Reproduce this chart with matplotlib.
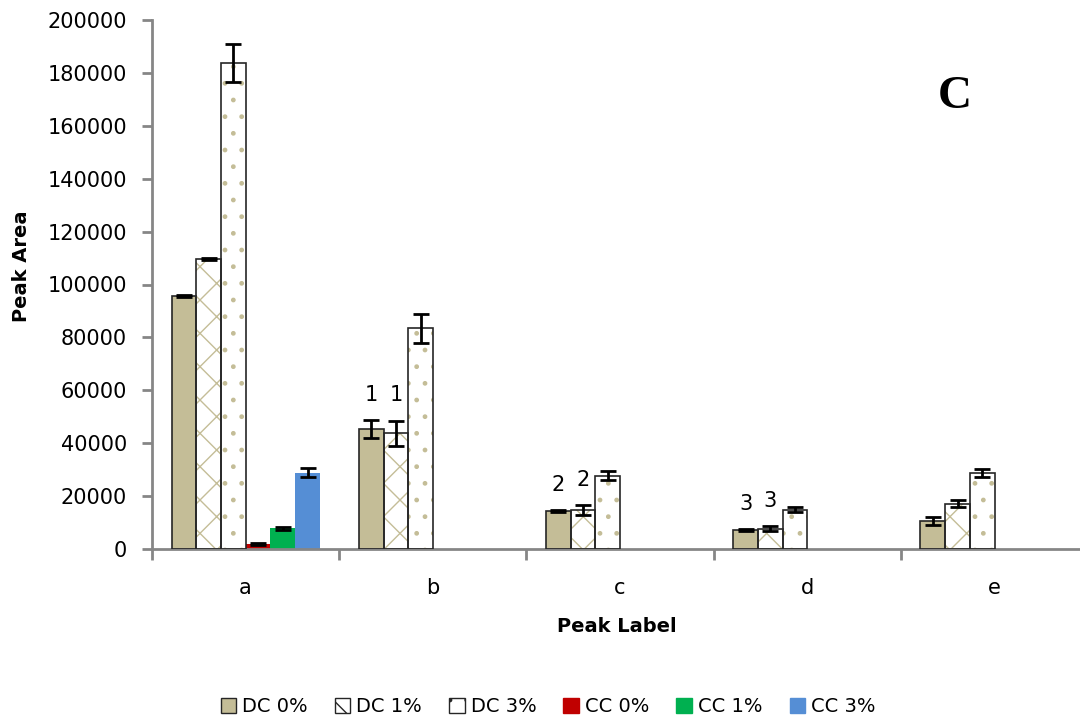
import numpy as np
import matplotlib
matplotlib.use('Agg')
from matplotlib import pyplot as plt
from matplotlib.patches import Patch

plt.rcParams['font.family'] = 'DejaVu Sans'
plt.rcParams['hatch.linewidth'] = 1.0

# peak areas, one list per treatment (nan = not measured)
peaks   = ['a', 'b', 'c', 'd', 'e']
series  = ['DC 0%', 'DC 1%', 'DC 3%', 'CC 0%', 'CC 1%', 'CC 3%']

dc0     = [95500, 45300, 14300, 7200, 10500]
dc1     = [109500, 43700, 14700, 7700, 17100]
dc3     = [183800, 83400, 27700, 14900, 28800]
cc0     = [1800, np.nan, np.nan, np.nan, np.nan]
cc1     = [7800, np.nan, np.nan, np.nan, np.nan]
cc3     = [28800, np.nan, np.nan, np.nan, np.nan]

dc0_err = [400, 3400, 500, 300, 1500]
dc1_err = [400, 4800, 2000, 1000, 1300]
dc3_err = [7300, 5400, 1800, 1000, 1600]
cc0_err = [300, np.nan, np.nan, np.nan, np.nan]
cc1_err = [500, np.nan, np.nan, np.nan, np.nan]
cc3_err = [1700, np.nan, np.nan, np.nan, np.nan]

# group labels written over the DC 0% / DC 1% bars of b, c, d
marks_dc0 = ['', '1', '2', '3', '']
marks_dc1 = ['', '1', '2', '3', '']

TAN = '#C4BD97'
values = [dc0, dc1, dc3, cc0, cc1, cc3]
errors = [dc0_err, dc1_err, dc3_err, cc0_err, cc1_err, cc3_err]
fills  = [TAN, 'white', 'white', '#C00000', '#00B050', '#558ED5']
hatches = [None, 'x', '.', None, None, None]
outlined = [True, True, True, False, False, False]

fig = plt.figure(figsize=(10.8, 7.19), dpi=100)
ax = fig.add_axes([152/1080, 1-549/719, 936/1080, 529/719])

x = np.arange(len(peaks))
w = 0.132
start = -0.395 + w/2

for i in range(len(series)):
    pos = x + start + i*w
    h = np.array(values[i], dtype=float)
    if hatches[i]:
        # hatch drawn in tan, outline drawn separately in dark grey
        ax.bar(pos, h, w, color=fills[i], edgecolor=TAN, hatch=hatches[i], linewidth=0, zorder=2)
    else:
        ax.bar(pos, h, w, color=fills[i], linewidth=0, zorder=2)
    if outlined[i]:
        ax.bar(pos, h, w, fill=False, edgecolor='#262626', linewidth=1.2, zorder=3)
    ax.errorbar(pos, h, yerr=np.array(errors[i], dtype=float), fmt='none', ecolor='black',
                elinewidth=2, capsize=6, capthick=2, zorder=4)

for marks, i in [(marks_dc0, 0), (marks_dc1, 1)]:
    for j, m in enumerate(marks):
        if m:
            ax.annotate(m, (x[j] + start + i*w, values[i][j] + errors[i][j]),
                        xytext=(0, 11), textcoords='offset points',
                        ha='center', va='bottom', fontsize=15)

ax.set_xlim(-0.5, 4.5)
ax.set_ylim(0, 200000)
ax.set_yticks(np.arange(0, 200001, 20000))
ax.set_xticks(x)
ax.set_xticklabels(peaks, fontsize=15)
ax.set_xticks(np.arange(-0.5, 5, 1), minor=True)
ax.tick_params(axis='x', which='major', length=0, pad=21)
ax.tick_params(axis='x', which='minor', length=8, width=2, color='#868686', direction='out')
ax.tick_params(axis='y', length=7, width=2, color='#868686', labelsize=15, pad=11)

for s in ['top', 'right']:
    ax.spines[s].set_visible(False)
for s in ['left', 'bottom']:
    ax.spines[s].set_color('#868686')
    ax.spines[s].set_linewidth(2)

fig.text(22/1080, 1-266/719, 'Peak Area', rotation=90, ha='center', va='center',
         fontsize=14, fontweight='bold')
fig.text(617/1080, 1-627/719, 'Peak Label', ha='center', va='center',
         fontsize=14, fontweight='bold')
fig.text(955/1080, 1-97/719, 'C', ha='center', va='center', fontsize=34,
         fontweight='bold', family='Liberation Serif')

handles = [Patch(facecolor=fills[i], edgecolor=('#262626' if outlined[i] else fills[i]),
                 hatch=hatches[i], linewidth=1) for i in range(len(series))]
fig.legend(handles, series, loc='center', bbox_to_anchor=(548/1080, 1-707/719), ncol=6,
           frameon=False, fontsize=14, handlelength=0.8, handleheight=0.8,
           handletextpad=0.3, columnspacing=1.4)

fig.savefig('out.png', dpi=100)
